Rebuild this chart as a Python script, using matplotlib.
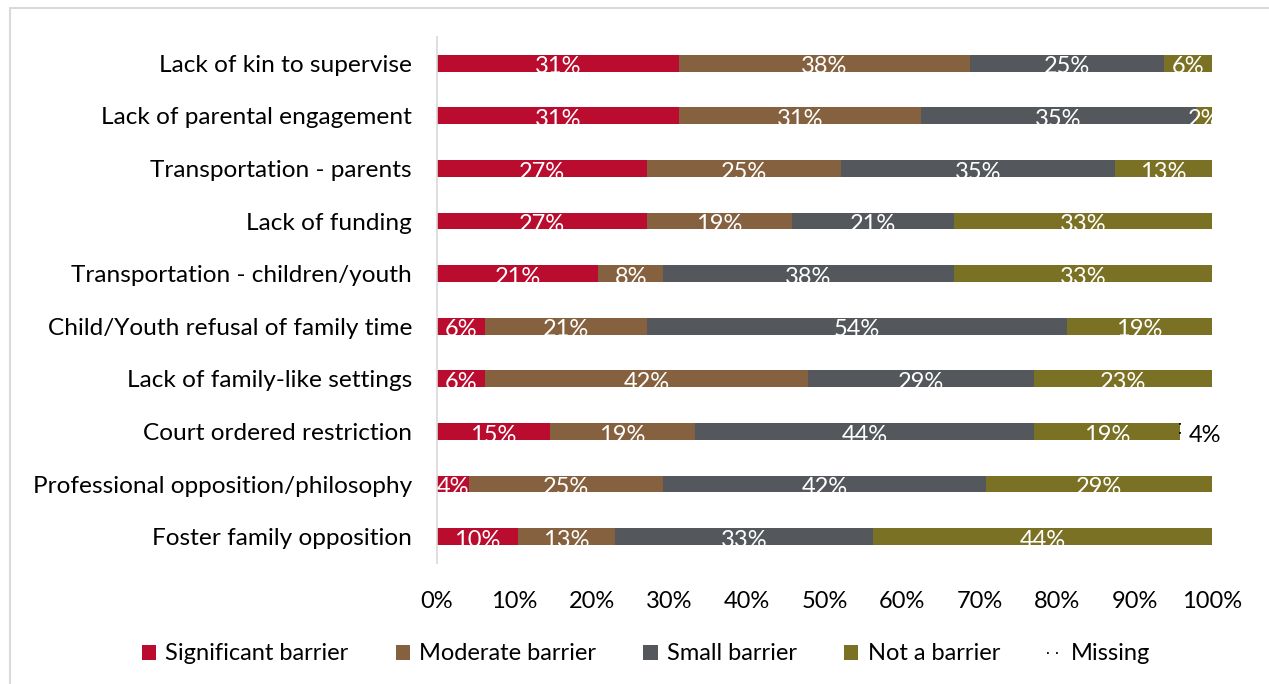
import matplotlib.pyplot as plt
import numpy as np
import math
from matplotlib.patches import Rectangle
from matplotlib.lines import Line2D

plt.rcParams["font.family"] = ["Lato", "DejaVu Sans"]

# Barrier categories, top to bottom
categories = [
    "Lack of kin to supervise",
    "Lack of parental engagement",
    "Transportation - parents",
    "Lack of funding",
    "Transportation - children/youth",
    "Child/Youth refusal of family time",
    "Lack of family-like settings",
    "Court ordered restriction",
    "Professional opposition/philosophy",
    "Foster family opposition",
]

# Percent of respondents per rating
significant = [31.25, 31.25, 27.08, 27.08, 20.83, 6.25, 6.25, 14.58, 4.17, 10.42]
moderate = [37.50, 31.25, 25.00, 18.75, 8.33, 20.83, 41.67, 18.75, 25.00, 12.50]
small = [25.00, 35.42, 35.42, 20.83, 37.50, 54.17, 29.17, 43.75, 41.67, 33.33]
not_barrier = [6.25, 2.08, 12.50, 33.33, 33.33, 18.75, 22.92, 18.75, 29.17, 43.75]
missing = [0, 0, 0, 0, 0, 0, 0, 4.17, 0, 0]

series = [
    ("Significant barrier", significant, "#BA0C2F"),
    ("Moderate barrier", moderate, "#85613F"),
    ("Small barrier", small, "#54575B"),
    ("Not a barrier", not_barrier, "#7B7124"),
]

FS = 17


def pct(v):
    return f"{math.floor(v + 0.5)}%"


fig = plt.figure(figsize=(12.69, 6.84), dpi=100)
ax = fig.add_axes([0.3444, 0.177, 0.6107, 0.769])

y = np.arange(len(categories))
left = np.zeros(len(categories))
handles = []
for name, vals, color in series:
    vals = np.array(vals)
    bars = ax.barh(y, vals, left=left, height=0.32, color=color, label=name)
    handles.append(bars)
    for yi, v, l in zip(y, vals, left):
        if v > 0:
            ax.text(l + v / 2, yi + 0.07, pct(v), ha="center", va="center",
                    color="white", fontsize=FS)
    left += vals

# Missing responses: white segment, dotted on its left side
miss = np.array(missing)
has = miss > 0
ax.barh(y[has], miss[has], left=left[has], height=0.32, color="white",
        edgecolor="none")
ax.vlines(left[has], y[has] - 0.16, y[has] + 0.16, colors="black",
          linestyles=(0, (1, 4)), linewidth=1.3)
for yi, v, l in zip(y[has], miss[has], left[has]):
    ax.text(l + v / 2 + 1.2, yi + 0.07, pct(v), ha="center", va="center",
            color="black", fontsize=FS)
handles.append(Line2D([], [], color="black", linestyle=(0, (1, 4)),
                      linewidth=1.3, label="Missing"))

ax.set_xlim(0, 100)
ax.set_ylim(len(categories) - 0.5, -0.5)
ax.set_yticks(y)
ax.set_yticklabels(categories, fontsize=17.6)
ax.set_xticks(np.arange(0, 101, 10))
ax.set_xticklabels([f"{t}%" for t in range(0, 101, 10)], fontsize=FS)
ax.tick_params(axis="both", length=0)
ax.tick_params(axis="x", pad=20)
ax.tick_params(axis="y", pad=18)

for s in ["top", "right", "bottom"]:
    ax.spines[s].set_visible(False)
ax.spines["left"].set_color("#D9D9D9")
ax.spines["left"].set_linewidth(1.2)

ax.legend(handles=handles, loc="center", bbox_to_anchor=(646 / 1269, 1 - 654 / 684),
          bbox_transform=fig.transFigure, ncol=5, frameon=False, fontsize=FS,
          handlelength=0.6, handleheight=0.6, columnspacing=2.0, handletextpad=0.4,
          borderpad=0)

# outer frame
fig.patches.append(Rectangle((10 / 1269, -0.1), 1.2, 1 - 8 / 684 + 0.1,
                             transform=fig.transFigure, fill=False,
                             edgecolor="#D9D9D9", linewidth=1.5))

plt.savefig("out.png", dpi=100)
